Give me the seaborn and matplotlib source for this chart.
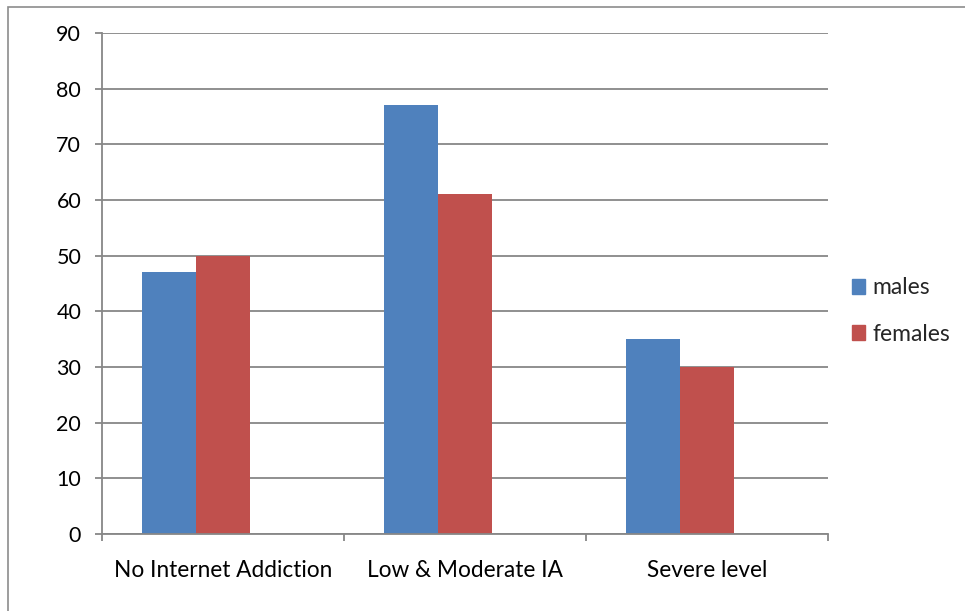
import matplotlib
matplotlib.use("Agg")
import matplotlib.pyplot as plt
import matplotlib.patches as mpatches
import pandas as pd
import seaborn as sns

categories = ["No Internet Addiction", "Low & Moderate IA", "Severe level"]
males = [47, 77, 35]
females = [50, 61, 30]
series_names = ["males", "females"]
y_ticks = [0, 10, 20, 30, 40, 50, 60, 70, 80, 90]

blue = "#4F81BD"
red = "#C0504D"
grid_grey = "#878787"

sns.set_theme(style="white")
plt.rcParams["font.family"] = ["Lato", "DejaVu Sans"]

df = pd.DataFrame({
    "category": categories * 2,
    "value": males + females,
    "series": ["males"] * 3 + ["females"] * 3,
})

fig = plt.figure(figsize=(9.65, 6.11), dpi=100)
ax = fig.add_axes([102 / 965, 1 - 534 / 611, (828 - 102) / 965, (534 - 33) / 611])

# a third, empty slot keeps each pair left of the category centre
sns.barplot(data=df, x="category", y="value", hue="series",
            hue_order=["males", "females", "_spare"],
            palette={"males": blue, "females": red, "_spare": "white"},
            order=categories, width=0.67, linewidth=0, saturation=1,
            errorbar=None, legend=False, ax=ax)

ax.set_xlim(-0.5, 2.5)
ax.set_ylim(0, 90)
ax.set_yticks(y_ticks)
ax.set_xticks([0, 1, 2])
ax.set_xticklabels(categories)
ax.set_xlabel("")
ax.set_ylabel("")

ax.yaxis.grid(True, color=grid_grey, linewidth=1.3)
ax.set_axisbelow(True)
for s in ["top", "right"]:
    ax.spines[s].set_visible(False)
for s in ["left", "bottom"]:
    ax.spines[s].set_color(grid_grey)
    ax.spines[s].set_linewidth(1.3)

ax.tick_params(axis="y", left=True, length=5, width=1.3, color=grid_grey,
               pad=10, labelsize=15.5, labelcolor="black")
ax.tick_params(axis="x", bottom=False, pad=13, labelsize=16.3, labelcolor="black")

# category boundary ticks below the axis
for xb in [-0.5, 0.5, 1.5, 2.5]:
    ax.plot([xb, xb], [0, -1.3], color=grid_grey, linewidth=1.3,
            clip_on=False, solid_capstyle="butt")

handles = [mpatches.Patch(color=blue, label=series_names[0]),
           mpatches.Patch(color=red, label=series_names[1])]
fig.legend(handles=handles, loc="center left",
           bbox_to_anchor=(831 / 965, 1 - 311 / 611), frameon=False,
           fontsize=16.5, handlelength=0.6, handleheight=0.6,
           handletextpad=0.3, labelspacing=1.1)

# chart area border
fig.patches.append(mpatches.Rectangle((8 / 965, -0.1), 1.2, 1 - 7 / 611 + 0.1,
                                      transform=fig.transFigure, fill=False,
                                      edgecolor="#8c8c8c", linewidth=1.2))

fig.savefig("out.png", dpi=100)
